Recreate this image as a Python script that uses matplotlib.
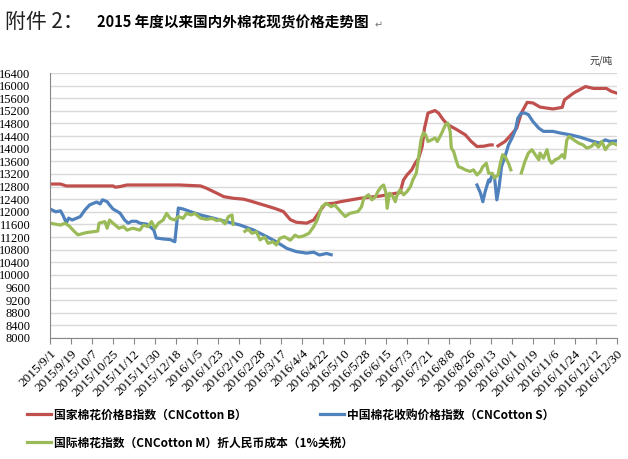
import numpy as np
import pandas as pd
import matplotlib
matplotlib.use("Agg")
import matplotlib.pyplot as plt

plt.rcParams['font.family'] = ['Noto Sans CJK SC', 'DejaVu Sans']

# 国家棉花价格B指数 (CNCotton B)
red_dates = ["2015-09-01", "2015-09-10", "2015-09-15", "2015-10-25", "2015-10-27", "2015-10-31",
             "2015-11-06", "2015-12-21", "2016-01-08", "2016-01-13", "2016-01-22", "2016-01-28",
             "2016-02-05", "2016-02-14", "2016-02-19", "2016-02-28", "2016-03-08", "2016-03-13",
             "2016-03-19", "2016-03-25", "2016-03-30", "2016-04-08", "2016-04-14", "2016-04-19",
             "2016-04-24", "2016-05-01", "2016-05-07", "2016-05-24", "2016-06-10", "2016-06-27",
             "2016-06-30", "2016-07-03", "2016-07-07", "2016-07-10", "2016-07-13", "2016-07-16",
             "2016-07-18", "2016-07-21", "2016-07-27", "2016-07-30", "2016-08-03", "2016-08-07",
             "2016-08-14", "2016-08-22", "2016-08-27", "2016-09-01", "2016-09-07", "2016-09-12",
             "2016-09-14", "2016-09-16", "2016-09-19", "2016-09-25", "2016-09-29", "2016-10-05",
             "2016-10-09", "2016-10-14", "2016-10-19", "2016-10-25", "2016-11-05", "2016-11-13",
             "2016-11-15", "2016-11-23", "2016-12-03", "2016-12-10", "2016-12-21", "2016-12-25",
             "2016-12-30"]
red_vals = [12880, 12880, 12820, 12820, 12780, 12800,
            12850, 12850, 12820, 12750, 12590, 12480,
            12430, 12400, 12350, 12250, 12150, 12090,
            12010, 11750, 11670, 11640, 11740, 12010,
            12250, 12270, 12320, 12430, 12500, 12610,
            13010, 13170, 13330, 13540, 13700, 14070,
            14650, 15130, 15210, 15130, 14920, 14760,
            14620, 14440, 14230, 14070, 14080, 14120,
            14120, np.nan, 14090, 14230, 14390, 14650,
            15130, 15470, 15450, 15320, 15260, 15310,
            15550, 15770, 15970, 15910, 15910, 15820,
            15760]

# 中国棉花收购价格指数 (CNCotton S)
blue_dates = ["2015-09-01", "2015-09-06", "2015-09-10", "2015-09-12", "2015-09-15", "2015-09-17",
              "2015-09-20", "2015-09-24", "2015-09-27", "2015-10-01", "2015-10-05", "2015-10-11",
              "2015-10-14", "2015-10-16", "2015-10-20", "2015-10-22", "2015-10-25", "2015-10-31",
              "2015-11-04", "2015-11-07", "2015-11-10", "2015-11-14", "2015-11-17", "2015-11-23",
              "2015-11-26", "2015-11-29", "2015-12-01", "2015-12-07", "2015-12-13", "2015-12-17",
              "2015-12-20", "2015-12-24", "2015-12-30", "2016-01-08", "2016-01-19", "2016-01-30",
              "2016-02-11", "2016-02-22", "2016-03-05", "2016-03-13", "2016-03-22", "2016-03-30",
              "2016-04-08", "2016-04-14", "2016-04-19", "2016-04-25", "2016-04-29", "2016-05-03",
              "2016-09-01", "2016-09-04", "2016-09-06", "2016-09-08", "2016-09-11", "2016-09-12",
              "2016-09-14", "2016-09-16", "2016-09-18", "2016-09-20", "2016-09-22", "2016-09-25",
              "2016-09-28", "2016-10-01", "2016-10-04", "2016-10-06", "2016-10-09", "2016-10-12",
              "2016-10-15", "2016-10-19", "2016-10-24", "2016-10-28", "2016-11-05", "2016-11-11",
              "2016-11-20", "2016-11-28", "2016-12-04", "2016-12-10", "2016-12-15", "2016-12-20",
              "2016-12-24", "2016-12-30"]
blue_vals = [12090, 12000, 12030, 11900, 11650, 11800,
             11740, 11800, 11850, 12060, 12220, 12310,
             12250, 12380, 12320, 12220, 12090, 11960,
             11740, 11640, 11700, 11700, 11640, 11610,
             11520, 11420, 11170, 11140, 11120, 11050,
             12120, 12090, 12010, 11900, 11800, 11690,
             11580, 11430, 11210, 11050, 10840, 10740,
             10690, 10720, 10630, 10680, 10640, np.nan,
             12850, 12590, 12320, 12640, 13010, 12950,
             13170, 13100, 12380, 12800, 13430, 13750,
             14120, 14340, 14600, 14970, 15130, 15130,
             15080, 14860, 14650, 14550, 14550, 14500,
             14440, 14370, 14300, 14230, 14180, 14280,
             14230, 14250]

# 国际棉花指数 (CNCotton M) 折人民币成本 (1%关税)
green_dates = ["2015-09-01", "2015-09-10", "2015-09-14", "2015-09-18", "2015-09-22", "2015-09-25",
               "2015-09-28", "2015-10-02", "2015-10-08", "2015-10-12", "2015-10-13", "2015-10-18",
               "2015-10-20", "2015-10-22", "2015-10-25", "2015-10-30", "2015-11-03", "2015-11-06",
               "2015-11-11", "2015-11-17", "2015-11-20", "2015-11-24", "2015-11-27", "2015-11-30",
               "2015-12-03", "2015-12-07", "2015-12-10", "2015-12-13", "2015-12-17", "2015-12-20",
               "2015-12-24", "2015-12-27", "2015-12-31", "2016-01-03", "2016-01-08", "2016-01-13",
               "2016-01-18", "2016-01-22", "2016-01-25", "2016-01-29", "2016-02-01", "2016-02-04",
               "2016-02-05", "2016-02-09", "2016-02-15", "2016-02-18", "2016-02-21", "2016-02-25",
               "2016-02-28", "2016-03-03", "2016-03-06", "2016-03-10", "2016-03-13", "2016-03-16",
               "2016-03-20", "2016-03-25", "2016-03-29", "2016-04-01", "2016-04-05", "2016-04-10",
               "2016-04-14", "2016-04-17", "2016-04-21", "2016-04-25", "2016-04-29", "2016-05-02",
               "2016-05-07", "2016-05-11", "2016-05-15", "2016-05-22", "2016-05-25", "2016-05-27",
               "2016-05-31", "2016-06-03", "2016-06-06", "2016-06-08", "2016-06-11", "2016-06-13",
               "2016-06-15", "2016-06-16", "2016-06-18", "2016-06-21", "2016-06-23", "2016-06-24",
               "2016-06-27", "2016-06-30", "2016-07-03", "2016-07-06", "2016-07-08", "2016-07-11",
               "2016-07-13", "2016-07-15", "2016-07-17", "2016-07-19", "2016-07-21", "2016-07-24",
               "2016-07-27", "2016-07-29", "2016-07-31", "2016-08-02", "2016-08-03", "2016-08-05",
               "2016-08-07", "2016-08-09", "2016-08-10", "2016-08-12", "2016-08-14", "2016-08-16",
               "2016-08-19", "2016-08-22", "2016-08-26", "2016-08-29", "2016-09-01", "2016-09-04",
               "2016-09-06", "2016-09-09", "2016-09-11", "2016-09-14", "2016-09-16", "2016-09-19",
               "2016-09-21", "2016-09-23", "2016-09-25", "2016-09-28", "2016-09-30", "2016-10-03",
               "2016-10-09", "2016-10-12", "2016-10-15", "2016-10-18", "2016-10-21", "2016-10-24",
               "2016-10-25", "2016-10-28", "2016-10-31", "2016-11-02", "2016-11-04", "2016-11-07",
               "2016-11-10", "2016-11-13", "2016-11-15", "2016-11-17", "2016-11-19", "2016-11-23",
               "2016-11-27", "2016-12-01", "2016-12-04", "2016-12-08", "2016-12-11", "2016-12-14",
               "2016-12-17", "2016-12-20", "2016-12-23", "2016-12-26", "2016-12-30"]
green_vals = [11640, 11580, 11640, 11530, 11370, 11270,
              11300, 11340, 11370, 11390, 11640, 11690,
              11480, 11740, 11640, 11480, 11530, 11420,
              11480, 11420, 11580, 11530, 11690, 11480,
              11640, 11740, 11950, 11790, 11740, 11850,
              11790, 11950, 11900, 11950, 11800, 11760,
              11790, 11720, 11760, 11620, 11850, 11900,
              11600, np.nan, 11380, 11450, 11320, 11360,
              11110, 11200, 11000, 11050, 10950, 11160,
              11210, 11100, 11260, 11200, 11230, 11320,
              11530, 11740, 12160, 12270, 12160, 12220,
              12010, 11850, 11950, 12010, 12160, 12430,
              12540, 12380, 12480, 12640, 12800, 12850,
              12590, 12110, 12590, 12480, 12320, 12480,
              12700, 12540, 12640, 12800, 13010, 13230,
              13750, 14280, 14510, 14440, 14230, 14280,
              14340, 14230, 14370, 14510, 14600, 14760,
              14810, 14550, 14020, 13910, 13650, 13430,
              13390, 13330, 13280, 13330, 13170, 13280,
              13430, 13540, 13220, 13220, 13070, 13170,
              13540, 13810, 13750, 13540, 13330, np.nan,
              13230, 13590, 13860, 13970, 13810, 13650,
              13860, 13700, 13970, 13650, 13540, 13650,
              13700, 13810, 13700, 14280, 14390, 14280,
              14180, 14120, 14020, 14070, 14180, 14050,
              14230, 13970, 14120, 14180, 14120]

labels = ["国家棉花价格B指数（CNCotton B）",
          "中国棉花收购价格指数（CNCotton S）",
          "国际棉花指数（CNCotton M）折人民币成本（1%关税）"]
colors = ["#C0504D", "#4F81BD", "#9BBB59"]

start, end = pd.Timestamp("2015-09-01"), pd.Timestamp("2016-12-30")
ticks = pd.date_range(start, end, freq="18D")
tick_labels = [f"{d.year}/{d.month}/{d.day}" for d in ticks]

W, H = 628, 459
fig = plt.figure(figsize=(W / 100, H / 100), dpi=100)
ax = fig.add_axes([50 / W, 1 - 338 / H, 567 / W, 265 / H])

series = [(red_dates, red_vals), (blue_dates, blue_vals), (green_dates, green_vals)]
lines = []
for (d, v), c, lab in zip(series, colors, labels):
    ln, = ax.plot(pd.to_datetime(d), np.array(v, dtype=float), color=c, lw=2.3,
                  solid_joinstyle="round", label=lab)
    lines.append(ln)

ax.set_xlim(start, end)
ax.set_ylim(8000, 16400)
ax.set_yticks(np.arange(8000, 16401, 400))
ax.yaxis.grid(True, color="#D9D9D9", lw=1)
ax.set_axisbelow(True)
ax.tick_params(axis="y", length=0, pad=14)
for t in ax.get_yticklabels():
    t.set_fontfamily("Liberation Serif")
    t.set_fontsize(9)

ax.set_xticks(ticks)
ax.set_xticklabels(tick_labels, rotation=45, ha="right", rotation_mode="anchor",
                   fontfamily="Liberation Serif", fontsize=9.5)
ax.tick_params(axis="x", length=4, color="#878787", pad=3)

for s in ["top", "right"]:
    ax.spines[s].set_visible(False)
for s in ["left", "bottom"]:
    ax.spines[s].set_color("#878787")
    ax.spines[s].set_linewidth(0.8)

# title
fig.text(5 / W, 1 - 28 / H, "附件 2：", fontsize=15, va="baseline", color="#222222")
fig.text(97 / W, 1 - 28 / H, "2015 年度以来国内外棉花现货价格走势图", fontsize=10.5,
         fontweight="bold", va="baseline")
fig.text(375 / W, 1 - 28 / H, "↵", fontsize=7, va="baseline", color="#777777")
fig.text(590 / W, 1 - 63 / H, "元/吨", fontsize=7, va="baseline", color="#333333")

# legend entries
legend_pos = [(27, 415), (320, 415), (27, 443)]
for ln, (px, py) in zip(lines, legend_pos):
    fig.legend(handles=[ln], loc="center left", bbox_to_anchor=(px / W, 1 - py / H),
               frameon=False, handlelength=2.0, handletextpad=0.3, borderpad=0,
               borderaxespad=0, prop={"weight": "bold", "size": 8.5})

fig.savefig("out.png", dpi=100)
